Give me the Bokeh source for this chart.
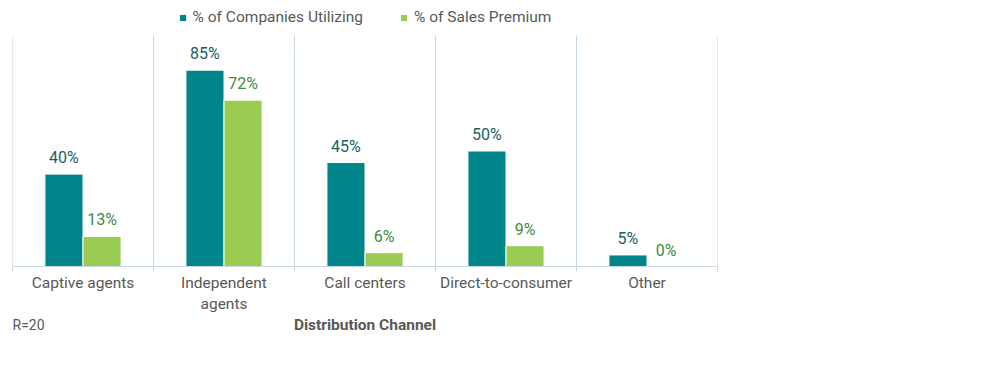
from bokeh.plotting import figure
from bokeh.layouts import column
from bokeh.models import (ColumnDataSource, FixedTicker, Range1d, Legend, LegendItem,
                          LabelSet)
from bokeh.transform import dodge
from bokeh.core.properties import value
from bokeh.embed import file_html
from bokeh.resources import INLINE

categories = ["Captive agents", "Independent\nagents", "Call centers", "Direct-to-consumer", "Other"]
companies_utilizing = [40, 85, 45, 50, 5]
sales_premium = [13, 72, 6, 9, 0]
series_names = ["% of Companies Utilizing", "% of Sales Premium"]
axis_title = "Distribution Channel"
note = "R=20"

TEAL = "#00868A"
GREEN = "#99CC50"
TEAL_TXT = "#1B5F63"
GREEN_TXT = "#3D8B3D"
GRID = "#C6D8E6"
TXT = "#595959"
FONT = "Roboto"

n = len(categories)
centers = [i + 0.5 for i in range(n)]
src = ColumnDataSource(dict(
    x=centers,
    a=companies_utilizing,
    b=sales_premium,
    al=[f"{v}%" for v in companies_utilizing],
    bl=[f"{v}%" for v in sales_premium],
))

p = figure(width=990, height=316, output_backend="svg", toolbar_location=None,
           x_range=Range1d(0, n), y_range=Range1d(0, 111.7),
           min_border_left=12, min_border_right=273, min_border_top=8, min_border_bottom=50)
p.outline_line_color = None
p.background_fill_color = "white"
p.border_fill_color = "white"

# vertical separators between categories (0..100 of the value axis)
bounds = list(range(n + 1))
p.segment(x0=bounds, x1=bounds, y0=[0] * (n + 1), y1=[100] * (n + 1),
          line_color=GRID, line_width=1)

w = 0.27
r1 = p.vbar(x=dodge("x", -w / 2, range=p.x_range), top="a", width=w, source=src,
            fill_color=TEAL, line_color="white", line_width=1)
r2 = p.vbar(x=dodge("x", w / 2, range=p.x_range), top="b", width=w, source=src,
            fill_color=GREEN, line_color="white", line_width=1)

p.add_layout(LabelSet(x=dodge("x", -w / 2, range=p.x_range), y="a", text="al", source=src,
                      text_align="center", text_baseline="bottom", y_offset=7,
                      text_color=TEAL_TXT, text_font=value(FONT), text_font_size="16px"))
p.add_layout(LabelSet(x=dodge("x", w / 2, range=p.x_range), y="b", text="bl", source=src,
                      text_align="center", text_baseline="bottom", y_offset=7,
                      text_color=GREEN_TXT, text_font=value(FONT), text_font_size="16px"))

ticker = FixedTicker(ticks=centers, minor_ticks=bounds)
p.xaxis.ticker = ticker
p.xaxis.major_label_overrides = {c: name for c, name in zip(centers, categories)}
p.xaxis.major_tick_line_color = None
p.xaxis.minor_tick_out = 5
p.xaxis.minor_tick_in = 0
p.xaxis.minor_tick_line_color = GRID
p.xaxis.axis_line_color = GRID
p.xaxis.major_label_text_color = TXT
p.xaxis.major_label_text_font = FONT
p.xaxis.major_label_text_font_size = "15.5px"
p.xaxis.major_label_standoff = 1

p.yaxis.visible = False
p.ygrid.grid_line_color = None
p.xgrid.grid_line_color = None

legend = Legend(items=[LegendItem(label=series_names[0], renderers=[r1]),
                       LegendItem(label=series_names[1], renderers=[r2])],
                orientation="horizontal", location="top_center",
                label_text_font=FONT, label_text_font_size="15.5px", label_text_color=TXT,
                glyph_width=9, glyph_height=9, label_standoff=6, spacing=36,
                padding=0, margin=0, border_line_color=None, background_fill_alpha=0)
p.add_layout(legend)

# footer strip: sample size note and axis title
f = figure(width=990, height=16, output_backend="svg", toolbar_location=None,
           x_range=p.x_range, y_range=Range1d(0, 1),
           min_border_left=12, min_border_right=273, min_border_top=0, min_border_bottom=0)
f.axis.visible = False
f.grid.grid_line_color = None
f.outline_line_color = None
f.text(x=[0], y=[0.5], text=[note], text_align="left", text_baseline="middle",
       text_font=value(FONT), text_font_size="14px", text_color=TXT)
f.text(x=[n / 2], y=[0.5], text=[axis_title], text_align="center", text_baseline="middle",
       text_font=value(FONT), text_font_size="15.5px", text_font_style="bold", text_color=TXT)

layout = column(p, f, spacing=0)
open("out.html", "w").write(file_html(layout, INLINE))
